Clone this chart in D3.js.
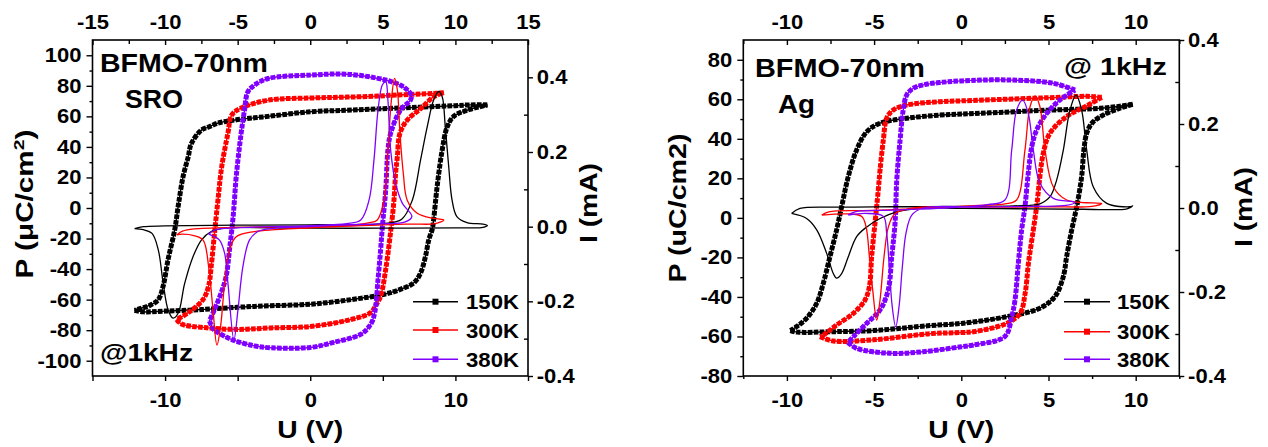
<!DOCTYPE html>
<html><head><meta charset="utf-8">
<script src="https://cdn.jsdelivr.net/npm/d3@7"></script>
<style>
body{margin:0;background:#fff;}
svg{display:block;font-family:"Liberation Sans",Arial,sans-serif;font-weight:bold;}
</style></head><body>
<svg id="chart" width="1268" height="447"></svg>
<script>
// ---------------- DATA ----------------
const temps = ["150K", "300K", "380K"];
const colors = ["#000000", "#ff0000", "#8000ff"];

// Panel 1: BFMO-70nm / SRO   [U (V), P (uC/cm2)] and [U (V), I (mA)]
const sro150_Pdown = [[12.2,67.5],[11,67.5],[10,67],[7.5,66],[5,65],[2.5,64],[0,63],[-2.9,60],[-5.2,57.6],[-6.4,55.5],[-7.0,53],[-7.5,51],[-8.2,42],[-8.4,33.7],[-8.76,20.6],[-9.1,1],[-9.33,-14],[-9.8,-34],[-10.13,-51],[-10.47,-60],[-11,-63.5],[-11.6,-65.5],[-12.1,-67]];
const sro150_Pup = [[-12.1,-67],[-11.5,-68],[-10,-67.5],[-7.5,-66.5],[-5,-65],[-2.7,-64],[0,-63],[2.8,-60],[5.1,-56.5],[6.2,-53.3],[7.14,-49],[7.6,-42.5],[7.94,-31.6],[8.17,-20.6],[8.4,-14],[8.5,-7.6],[8.74,14],[9.09,38],[9.43,53],[9.88,60],[10.8,64],[12.2,67.5]];
const sro150_I = [[-12.1,-0.005],[-11.5,0.0],[-10,0.002],[-5,0.004],[0,0.005],[5,0.008],[6.3,0.02],[7.03,0.071],[7.6,0.179],[8.06,0.268],[8.5,0.339],[8.85,0.362],[9.09,0.348],[9.3,0.268],[9.54,0.16],[9.77,0.071],[10.1,0.027],[10.8,0.011],[11.9,0.007],[12.2,0.003],[11.9,-0.002],[10,-0.003],[5,-0.004],[0,-0.004],[-5,-0.002],[-5.67,-0.003],[-6.82,-0.013],[-7.5,-0.036],[-8.07,-0.08],[-8.65,-0.152],[-9.1,-0.232],[-9.45,-0.245],[-9.79,-0.223],[-10.13,-0.152],[-10.47,-0.062],[-10.9,-0.018],[-11.5,-0.008],[-12.1,-0.005]];

const sro300_Pdown = [[9.2,75.5],[8.5,75],[6,74],[4,73],[2,72.5],[0,72],[-2.9,70.6],[-4.76,65.4],[-5.4,61],[-5.67,49],[-6.1,27],[-6.36,5],[-6.59,-16],[-6.82,-38],[-7.0,-51],[-7.39,-60],[-8.4,-68.5],[-9.2,-73]];
const sro300_Pup = [[-9.2,-73],[-8.87,-76],[-7.27,-78.3],[-5,-79.5],[-2.7,-78.5],[0,-77.6],[2.8,-73],[4.17,-68.5],[4.5,-64],[4.85,-57.6],[5.2,-40],[5.5,-18.5],[5.77,5.4],[5.88,22.8],[6.0,33.6],[6.18,49],[6.68,57.6],[7.6,65],[8.5,72.8],[9.2,75.5]];
const sro300_I = [[-9.2,-0.022],[-8.8,-0.012],[-8.0,-0.006],[-5,-0.002],[0,0.0],[3,0.005],[4.0,0.01],[4.62,0.018],[5.08,0.071],[5.35,0.205],[5.59,0.339],[5.81,0.397],[6.0,0.366],[6.18,0.25],[6.41,0.143],[6.68,0.071],[7.37,0.036],[8.5,0.022],[9.2,0.018],[8.6,0.008],[7,0.007],[5,0.005],[0,-0.003],[-3.84,-0.013],[-5.1,-0.027],[-5.56,-0.062],[-5.9,-0.152],[-6.18,-0.268],[-6.43,-0.317],[-6.7,-0.223],[-7.0,-0.107],[-7.38,-0.036],[-8.0,-0.024],[-8.8,-0.02],[-9.2,-0.022]];

const sro380_Pdown = [[7.0,74],[6.6,78],[6.2,80.5],[5.1,84],[2.57,87.6],[0,87],[-2.9,84.8],[-3.85,80.4],[-4.3,76],[-4.53,64],[-4.76,49],[-5.1,20.6],[-5.22,5.4],[-5.33,-7.6],[-5.56,-27],[-5.79,-44.6],[-6.13,-55.4],[-6.59,-66.3],[-6.95,-74]];
const sro380_Pup = [[-6.95,-74],[-6.6,-80],[-6.36,-81.5],[-5.44,-86],[-3.84,-90.3],[-2.7,-91.5],[0,-91.3],[1.6,-88],[3.5,-82.6],[4.17,-76],[4.44,-68.5],[4.67,-46.8],[4.85,-27],[4.97,-12],[5.2,12],[5.35,38],[5.54,49],[6.2,64],[6.9,70.6],[7.0,74]];
const sro380_I = [[-7.0,-0.02],[-6.5,-0.008],[-5,-0.003],[0,0.003],[2.5,0.008],[3.48,0.018],[4.05,0.071],[4.39,0.179],[4.67,0.313],[4.97,0.38],[5.2,0.388],[5.35,0.339],[5.54,0.205],[5.88,0.116],[6.34,0.063],[7.0,0.027],[6.5,0.012],[5,0.008],[2,0.004],[0,0.0],[-2.7,-0.005],[-3.61,-0.013],[-4.19,-0.036],[-4.64,-0.107],[-4.98,-0.223],[-5.26,-0.303],[-5.67,-0.152],[-5.9,-0.071],[-6.25,-0.036],[-6.7,-0.025],[-7.0,-0.02]];

// Panel 2: BFMO-70nm / Ag
const ag150_Pdown = [[9.83,57.5],[9.1,56.5],[8,55.5],[5,54.5],[2.5,53.5],[0,52.5],[-1.22,52],[-3.13,50.4],[-4.66,47.9],[-5.42,43.6],[-6.0,34.4],[-6.48,20.9],[-6.86,5.7],[-7.15,-6.1],[-7.53,-19.6],[-7.91,-33],[-8.29,-43.2],[-8.87,-50.8],[-9.44,-55],[-9.8,-57]];
const ag150_Pup = [[-9.8,-57],[-9.4,-57.8],[-7.5,-57.6],[-5.04,-57],[-1.8,-54.5],[0,-53.4],[2.6,-50],[4.5,-45.7],[5.37,-39.8],[5.85,-29.7],[6.04,-19.6],[6.33,-6.1],[6.62,5.7],[6.9,20.9],[7.03,34.4],[7.19,42.8],[7.5,48],[8.15,52.1],[9.1,55.5],[9.83,57.5]];
const ag150_I = [[-9.73,-0.013],[-9.25,-0.001],[-7,0.002],[-4,0.003],[0,0.004],[3,0.005],[4.5,0.01],[5.09,0.027],[5.47,0.067],[5.85,0.138],[6.23,0.233],[6.58,0.269],[6.9,0.233],[7.19,0.138],[7.57,0.05],[8.34,0.011],[9.67,0.003],[9.83,0.005],[9.5,-0.002],[7,-0.003],[4,-0.002],[0,-0.001],[-2.18,0.0],[-3.7,-0.009],[-4.66,-0.025],[-5.42,-0.045],[-6.0,-0.068],[-6.48,-0.116],[-6.86,-0.156],[-7.15,-0.167],[-7.34,-0.156],[-7.72,-0.108],[-8.29,-0.052],[-8.87,-0.025],[-9.73,-0.013]];

const ag300_Pdown = [[8.05,61],[7.2,61.5],[5,60.8],[2.5,60],[0,59.2],[-1.22,58.8],[-3.13,57.1],[-3.9,54.6],[-4.28,50.4],[-4.47,39.4],[-4.66,24.2],[-4.76,14.1],[-4.95,-2.7],[-5.14,-19.6],[-5.27,-34.8],[-5.52,-41.5],[-6.19,-48.3],[-7.15,-54.2],[-7.91,-59.3],[-8.1,-60.1]];
const ag300_Pup = [[-8.1,-60.1],[-7.33,-62.3],[-5.04,-61.7],[-1.8,-58.6],[0,-58],[0.7,-57.6],[2.6,-53.4],[3.37,-48.3],[3.66,-38.2],[3.85,-23],[4.13,-6.1],[4.32,5.7],[4.7,32.7],[5.08,42.8],[6.04,51.3],[7.2,56.7],[8.05,61]];
const ag300_I = [[-8.0,-0.017],[-7.6,-0.009],[-5,-0.006],[-2,0.0],[1,0.006],[2.5,0.01],[3.17,0.019],[3.65,0.138],[3.94,0.241],[4.23,0.267],[4.51,0.241],[4.8,0.138],[5.28,0.05],[6.04,0.019],[7.5,0.012],[8.05,0.011],[7.5,0.004],[5,0.003],[2,0.002],[-2.75,0.0],[-3.8,-0.013],[-4.18,-0.045],[-4.43,-0.116],[-4.66,-0.219],[-4.85,-0.267],[-5.08,-0.195],[-5.27,-0.116],[-5.46,-0.045],[-5.71,-0.02],[-6.57,-0.014],[-8.0,-0.017]];

const ag380_Pdown = [[6.52,64.7],[5.28,68.1],[2.6,69.8],[0,69.3],[-1.22,68.5],[-2.18,67.3],[-2.75,65.6],[-3.13,62.2],[-3.33,54.6],[-3.51,39.4],[-3.7,19.2],[-3.8,-2.7],[-3.99,-19.6],[-4.19,-36.5],[-4.66,-46.6],[-5.42,-53.3],[-6.19,-60.1],[-6.5,-63]];
const ag380_Pup = [[-6.5,-63],[-6.0,-66],[-4.09,-68.5],[-2.18,-67.7],[0,-65.2],[0.7,-64.3],[2.5,-60],[2.89,-50],[3.08,-41.5],[3.27,-23],[3.46,-6.1],[3.65,5.7],[3.84,22.6],[4.04,36],[4.32,44.5],[4.9,52.9],[5.66,59.7],[6.52,64.7]];
const ag380_I = [[-6.48,-0.017],[-6.1,-0.009],[-4,-0.005],[-1,0.0],[1.5,0.008],[2.5,0.019],[2.89,0.138],[3.17,0.233],[3.52,0.257],[3.84,0.225],[4.13,0.138],[4.51,0.059],[5.28,0.023],[6.42,0.015],[6.52,0.013],[6.0,0.006],[4,0.004],[1,0.002],[-2.18,0.0],[-2.84,-0.017],[-3.17,-0.06],[-3.38,-0.14],[-3.57,-0.235],[-3.76,-0.283],[-3.96,-0.235],[-4.13,-0.14],[-4.28,-0.06],[-4.47,-0.02],[-5.5,-0.013],[-6.48,-0.017]];

// Ticks
const sroTopTicks = [-15,-10,-5,0,5,10,15];
const sroTopMinor = [-12.5,-7.5,-2.5,2.5,7.5,12.5];
const sroBottomTicks = [-15,-10,-5,0,5,10,15];
const sroBottomLabels = [-10,0,10];
const sroPTicks = [-100,-80,-60,-40,-20,0,20,40,60,80,100];
const sroPMinor = [-90,-70,-50,-30,-10,10,30,50,70,90];
const agTopTicks = [-10,-5,0,5,10];
const agTopMinor = [-12.5,-7.5,-2.5,2.5,7.5,12.5];
const agBottomTicks = [-10,-5,0,5,10];
const agBottomLabels = [-10,-5,0,5,10];
const agPTicks = [-80,-60,-40,-20,0,20,40,60,80];
const agPMinor = [-70,-50,-30,-10,10,30,50,70];
const iTicks = [-0.4,-0.2,0,0.2,0.4];
const iMinor = [-0.3,-0.1,0.1,0.3];

// ---------------- DRAW ----------------
const svg = d3.select("#chart");

function fitText(parent, build, x, y, size, len, anchor, rot) {
  const t = parent.append("text").attr("font-size", size).attr("font-weight", "bold")
    .attr("text-anchor", anchor || "start").attr("fill", "#000");
  build(t);
  const w = t.node().getComputedTextLength();
  const s = len / w;
  t.attr("transform", `translate(${x},${y}) rotate(${rot || 0}) scale(${s},1)`);
  return t;
}

function drawPanel(cfg) {
  const g = svg.append("g");
  const x = d3.scaleLinear().domain(cfg.vDomain).range([cfg.left, cfg.right]);
  const yP = d3.scaleLinear().domain(cfg.pDomain).range([cfg.bottom, cfg.top]);
  const yI = d3.scaleLinear().domain(cfg.iDomain).range([cfg.bottom, cfg.top]);
  const lineP = d3.line().x(d => x(d[0])).y(d => yP(d[1])).curve(d3.curveCatmullRom.alpha(0.5));
  const lineI = d3.line().x(d => x(d[0])).y(d => yI(d[1])).curve(d3.curveCatmullRom.alpha(0.5));

  cfg.series.forEach((s, k) => {
    [s.down, s.up].forEach(br => {
      g.append("path").attr("d", lineP(br)).attr("fill", "none")
        .attr("stroke", colors[k]).attr("stroke-width", 1.4);
      g.append("path").attr("d", lineP(br)).attr("fill", "none")
        .attr("stroke", colors[k]).attr("stroke-width", 5)
        .attr("stroke-dasharray", "4.6,1.3");
    });
  });
  cfg.series.forEach((s, k) => {
    g.append("path").attr("d", lineI(s.cur)).attr("fill", "none")
      .attr("stroke", colors[k]).attr("stroke-width", 1.3).attr("stroke-linejoin", "round");
  });

  // frame
  g.append("rect").attr("x", cfg.left).attr("y", cfg.top)
    .attr("width", cfg.right - cfg.left).attr("height", cfg.bottom - cfg.top)
    .attr("fill", "none").attr("stroke", "#000").attr("stroke-width", 1.6);

  const fmtInt = d => String(d);
  const style = a => {
    a.select(".domain").remove();
    a.selectAll("line").attr("stroke", "#000").attr("stroke-width", 1.4);
    a.selectAll("text").attr("font-size", 20).attr("font-weight", "bold")
      .attr("fill", "#000").attr("font-family", '"Liberation Sans", Arial, sans-serif')
      .attr("transform", "scale(1.1,1)");
    return a;
  };
  // top
  style(g.append("g").attr("transform", `translate(0,${cfg.top})`)
    .call(d3.axisTop(x).tickValues(cfg.topTicks).tickSizeInner(-5).tickSizeOuter(0).tickPadding(11.5).tickFormat(fmtInt)));
  style(g.append("g").attr("transform", `translate(0,${cfg.top})`)
    .call(d3.axisTop(x).tickValues(cfg.topMinor).tickSizeInner(-4).tickSizeOuter(0).tickFormat("")));
  // bottom
  style(g.append("g").attr("transform", `translate(0,${cfg.bottom})`)
    .call(d3.axisBottom(x).tickValues(cfg.bottomTicks).tickSizeInner(5).tickSizeOuter(0).tickPadding(12)
      .tickFormat(d => cfg.bottomLabels.includes(d) ? String(d) : "")));
  if (cfg.bottomMinor) style(g.append("g").attr("transform", `translate(0,${cfg.bottom})`)
    .call(d3.axisBottom(x).tickValues(cfg.bottomMinor).tickSizeInner(3).tickSizeOuter(0).tickFormat("")));
  // left
  style(g.append("g").attr("transform", `translate(${cfg.left},0)`)
    .call(d3.axisLeft(yP).tickValues(cfg.pTicks).tickSizeInner(6).tickSizeOuter(0).tickPadding(4).tickFormat(fmtInt)));
  style(g.append("g").attr("transform", `translate(${cfg.left},0)`)
    .call(d3.axisLeft(yP).tickValues(cfg.pMinor).tickSizeInner(3).tickSizeOuter(0).tickFormat("")));
  // right
  style(g.append("g").attr("transform", `translate(${cfg.right},0)`)
    .call(d3.axisRight(yI).tickValues(iTicks).tickSizeInner(5).tickSizeOuter(0).tickPadding(3).tickFormat(d => d.toFixed(1))));
  style(g.append("g").attr("transform", `translate(${cfg.right},0)`)
    .call(d3.axisRight(yI).tickValues(iMinor).tickSizeInner(-4).tickSizeOuter(0).tickFormat("")));

  // annotations
  cfg.notes.forEach(n => fitText(g, t => t.text(n.s), n.x, n.y, n.size, n.len, "start", 0));

  // axis titles
  fitText(g, t => t.text("U (V)"), (cfg.left + cfg.right) / 2, 438, 23, 66, "middle", 0);
  fitText(g, cfg.pTitle, cfg.pTitleX, cfg.pTitleY, 23, 149, "middle", -90);
  fitText(g, t => t.text("I (mA)"), cfg.iTitleX, cfg.iTitleY, 23, 80, "middle", -90);

  // legend
  cfg.series.forEach((s, k) => {
    const yy = cfg.legY[k];
    g.append("line").attr("x1", cfg.legX1).attr("x2", cfg.legX2).attr("y1", yy).attr("y2", yy)
      .attr("stroke", colors[k]).attr("stroke-width", 1.6);
    g.append("rect").attr("x", (cfg.legX1 + cfg.legX2) / 2 - 3).attr("y", yy - 3)
      .attr("width", 6).attr("height", 6).attr("fill", colors[k]);
    fitText(g, t => t.text(temps[k]), cfg.legTX, yy + 7.5, 21, 53, "start", 0);
  });
}

drawPanel({
  left: 92.5, right: 528, top: 40, bottom: 376,
  vDomain: [-15, 15], pDomain: [-110, 110], iDomain: [-0.4, 0.5],
  topTicks: sroTopTicks, topMinor: sroTopMinor,
  bottomTicks: sroBottomTicks, bottomLabels: sroBottomLabels, bottomMinor: null,
  pTicks: sroPTicks, pMinor: sroPMinor,
  series: [
    {down: sro150_Pdown, up: sro150_Pup, cur: sro150_I},
    {down: sro300_Pdown, up: sro300_Pup, cur: sro300_I},
    {down: sro380_Pdown, up: sro380_Pup, cur: sro380_I}
  ],
  notes: [
    {s: "BFMO-70nm", x: 100, y: 72, size: 25, len: 168},
    {s: "SRO", x: 125, y: 108, size: 25, len: 58},
    {s: "@1kHz", x: 100, y: 360.5, size: 24, len: 93}
  ],
  pTitle: t => { t.append("tspan").text("P (\u03bcC/cm"); t.append("tspan").attr("font-size", 15).attr("dy", -9).text("2"); t.append("tspan").attr("dy", 9).text(")"); },
  pTitleX: 33, pTitleY: 204,
  iTitleX: 597, iTitleY: 203,
  legX1: 413, legX2: 458, legTX: 466, legY: [301.7, 330, 359.3]
});

drawPanel({
  left: 743.3, right: 1179.3, top: 40, bottom: 376,
  vDomain: [-12.5, 12.5], pDomain: [-80, 90], iDomain: [-0.4, 0.4],
  topTicks: agTopTicks, topMinor: agTopMinor,
  bottomTicks: agBottomTicks, bottomLabels: agBottomLabels, bottomMinor: [-12.5,-7.5,-2.5,2.5,7.5,12.5],
  pTicks: agPTicks, pMinor: agPMinor,
  series: [
    {down: ag150_Pdown, up: ag150_Pup, cur: ag150_I},
    {down: ag300_Pdown, up: ag300_Pup, cur: ag300_I},
    {down: ag380_Pdown, up: ag380_Pup, cur: ag380_I}
  ],
  notes: [
    {s: "BFMO-70nm", x: 755, y: 77, size: 25, len: 170},
    {s: "Ag", x: 778, y: 113.3, size: 25, len: 37},
    {s: "@ 1kHz", x: 1064, y: 75, size: 24, len: 103}
  ],
  pTitle: t => { t.text("P (uC/cm2)"); },
  pTitleX: 686, pTitleY: 208,
  iTitleX: 1252, iTitleY: 207,
  legX1: 1064, legX2: 1110, legTX: 1117, legY: [301.7, 331.7, 359.3]
});
</script>
</body></html>
